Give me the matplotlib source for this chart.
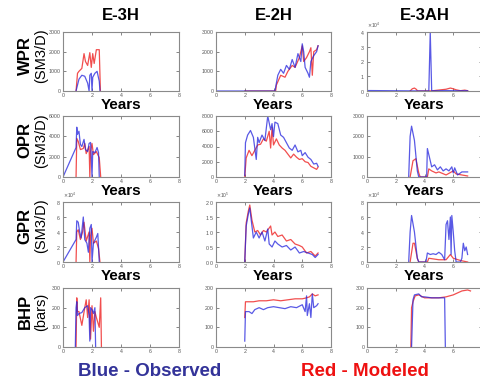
import matplotlib
matplotlib.use("Agg")
import matplotlib.pyplot as plt
import numpy as np

wells = ["E-3H", "E-2H", "E-3AH"]
props = ["WPR", "OPR", "GPR", "BHP"]
units = ["(SM3/D)", "(SM3/D)", "(SM3/D)", "(bars)"]
x_ticks = [0, 2, 4, 6, 8]

# y-axis upper limits per row / column
y_max = [[3000, 3000, 40000],
         [6000, 8000, 3000],
         [80000, 200000, 80000],
         [300, 300, 300]]
y_step = [[1000, 1000, 10000],
          [2000, 2000, 1000],
          [20000, 50000, 20000],
          [100, 100, 100]]

# ---- WPR ----
wpr_e3h_xo = [0.9, 1.1, 1.3, 1.5, 1.7, 1.8, 1.85, 1.95, 2.0, 2.05, 2.2, 2.35, 2.5, 2.55]
wpr_e3h_obs = [0, 600, 800, 750, 400, 0, 800, 900, 0, 700, 900, 1000, 500, 0]
wpr_e3h_xm = [0.9, 1.0, 1.1, 1.3, 1.45, 1.55, 1.7, 1.85, 1.95, 2.05, 2.15, 2.3, 2.5, 2.58]
wpr_e3h_mod = [0, 900, 1000, 1150, 1900, 1500, 1300, 1950, 1200, 1900, 1400, 2100, 2100, 0]

wpr_e2h_xo = [0, 0.35, 4.1, 4.3, 4.5, 4.7, 4.9, 5.1, 5.3, 5.5, 5.7, 5.9, 6.0, 6.1, 6.2, 6.4,
              6.5, 6.6, 6.8, 7.0, 7.1]
wpr_e2h_obs = [0, 0, 0, 800, 1100, 900, 1300, 1100, 1600, 1200, 1900, 1500, 2400, 2000, 1200,
               900, 700, 1500, 1800, 2000, 2300]
wpr_e2h_xm = [2.0, 4.15, 4.2, 4.5, 4.8, 5.0, 5.3, 5.5, 5.8, 6.0, 6.1, 6.3, 6.5, 6.6, 6.7, 6.8,
              7.0, 7.1]
wpr_e2h_mod = [0, 0, 300, 800, 700, 1000, 1300, 1200, 1700, 2300, 1500, 1700, 2000, 2200, 800,
               2000, 2100, 2300]

wpr_e3ah_xo = [0, 0.3, 4.3, 4.35, 4.4, 4.45, 4.5, 5.0, 5.5, 6.0, 6.5, 7.0]
wpr_e3ah_obs = [300, 300, 0, 20000, 40000, 20000, 200, 200, 300, 200, 200, 200]
wpr_e3ah_xm = [3.0, 3.15, 3.3, 3.45, 3.5, 4.5, 5.5, 5.8, 6.0, 6.2, 6.5, 6.8, 7.0]
wpr_e3ah_mod = [0, 1500, 2000, 1000, 0, 100, 1200, 2000, 1500, 800, 200, 600, 200]

# ---- OPR ----
opr_e3h_xo = [0, 0.9, 0.95, 1.0, 1.1, 1.2, 1.3, 1.45, 1.55, 1.7, 1.8, 1.9, 1.95, 2.0, 2.05,
              2.2, 2.35, 2.45, 2.5]
opr_e3h_obs = [0, 2900, 4900, 4200, 4500, 3200, 3000, 3700, 2700, 2500, 3300, 3400, 2000, 0,
               2500, 2400, 2900, 2400, 0]
opr_e3h_xm = [0.9, 0.95, 1.05, 1.2, 1.4, 1.5, 1.6, 1.8, 1.85, 1.9, 2.0, 2.1, 2.3, 2.5, 2.6]
opr_e3h_mod = [0, 3800, 3500, 2700, 2800, 3300, 2300, 3000, 0, 2500, 3300, 2200, 2500, 1900, 0]

opr_e2h_xo = [2.0, 2.05, 2.2, 2.4, 2.6, 2.8, 2.9, 3.0, 3.2, 3.4, 3.6, 3.8, 3.9, 4.0, 4.1, 4.3,
              4.5, 4.7, 4.9, 5.1, 5.3, 5.5, 5.7, 5.9, 6.0, 6.2, 6.4, 6.6, 6.8, 7.0, 7.1]
opr_e2h_obs = [200, 4500, 5500, 6100, 5200, 2300, 5200, 4500, 5500, 4800, 8000, 6200, 7000,
               5300, 7200, 7000, 5500, 5200, 4500, 3800, 3500, 4200, 3300, 3500, 2800, 3200,
               2600, 2300, 1700, 1800, 1400]
opr_e2h_xm = [2.0, 2.1, 2.3, 2.5, 2.7, 2.9, 3.1, 3.3, 3.5, 3.7, 3.8, 3.9, 4.0, 4.2, 4.4, 4.6,
              4.8, 5.0, 5.2, 5.4, 5.6, 5.8, 6.0, 6.2, 6.4, 6.6, 6.8, 7.0, 7.1]
opr_e2h_mod = [0, 2500, 3500, 2800, 3500, 4200, 4300, 5000, 4700, 6000, 3800, 6500, 4200, 5000,
               4200, 3800, 3500, 3000, 2500, 3000, 2600, 2300, 2400, 2000, 1900, 1400, 1200,
               1000, 1300]

opr_e3ah_xo = [2.9, 3.0, 3.1, 3.3, 3.5, 3.6, 4.15, 4.2, 4.3, 4.5, 4.7, 4.9, 5.1, 5.3, 5.5, 5.7,
               5.9, 6.0, 6.1, 6.3, 6.6, 7.0]
opr_e3ah_obs = [0, 2000, 2500, 1800, 300, 0, 0, 1400, 1100, 500, 600, 350, 500, 300, 400, 300,
                500, 200, 450, 100, 250, 250]
opr_e3ah_xm = [3.0, 3.2, 3.4, 3.6, 3.7, 4.2, 4.3, 4.5, 4.8, 5.0, 5.5, 6.0, 6.2, 6.6, 7.0]
opr_e3ah_mod = [0, 800, 900, 200, 0, 0, 400, 300, 200, 250, 100, 300, 150, 100, 50]

# ---- GPR ----
gpr_e3h_xo = [0, 0.9, 0.95, 1.05, 1.15, 1.25, 1.4, 1.5, 1.65, 1.75, 1.85, 1.95, 2.0, 2.1, 2.3,
              2.4, 2.5]
gpr_e3h_obs = [0, 30000, 55000, 53000, 40000, 32000, 60000, 30000, 25000, 13000, 45000, 50000,
               0, 25000, 33000, 38000, 0]
gpr_e3h_xm = [0.9, 0.95, 1.05, 1.2, 1.35, 1.45, 1.6, 1.8, 1.85, 1.9, 2.0, 2.1, 2.3, 2.45, 2.55]
gpr_e3h_mod = [0, 40000, 43000, 30000, 40000, 53000, 28000, 40000, 0, 35000, 45000, 25000,
               28000, 18000, 0]

gpr_e2h_xo = [2.0, 2.1, 2.25, 2.35, 2.5, 2.6, 2.8, 3.0, 3.2, 3.4, 3.6, 3.7, 3.9, 4.1, 4.3, 4.6,
              4.9, 5.2, 5.5, 5.8, 6.1, 6.4, 6.7, 6.9, 7.1]
gpr_e2h_obs = [0, 120000, 160000, 180000, 120000, 80000, 100000, 80000, 100000, 70000, 110000,
               60000, 50000, 70000, 60000, 50000, 55000, 40000, 50000, 30000, 35000, 30000,
               25000, 15000, 25000]
gpr_e2h_xm = [2.0, 2.1, 2.25, 2.35, 2.5, 2.7, 2.9, 3.1, 3.3, 3.5, 3.8, 3.9, 4.1, 4.3, 4.6, 4.9,
              5.2, 5.5, 5.8, 6.0, 6.3, 6.6, 6.9, 7.1]
gpr_e2h_mod = [0, 130000, 170000, 190000, 140000, 100000, 105000, 90000, 105000, 100000, 120000,
               90000, 100000, 85000, 90000, 70000, 75000, 60000, 55000, 50000, 30000, 35000,
               20000, 30000]

gpr_e3ah_xo = [2.9, 3.0, 3.1, 3.3, 3.5, 3.6, 4.1, 4.2, 4.4, 4.6, 4.8, 5.0, 5.2, 5.4, 5.5, 5.6,
               5.7, 5.8, 5.85, 5.9, 6.0, 6.1, 6.2, 6.5, 6.6, 6.7, 6.8, 6.9, 7.0]
gpr_e3ah_obs = [0, 40000, 62000, 40000, 5000, 0, 0, 12000, 10000, 11000, 10000, 13000, 10000,
                3000, 50000, 55000, 30000, 60000, 10000, 62000, 40000, 15000, 0, 0, 5000,
                25000, 15000, 20000, 10000]
gpr_e3ah_xm = [3.0, 3.2, 3.3, 3.5, 3.6, 4.2, 4.3, 5.0, 5.5, 5.8, 6.0, 6.5, 7.0]
gpr_e3ah_mod = [0, 25000, 25000, 5000, 0, 0, 5000, 3000, 3000, 10000, 5000, 2000, 0]

# ---- BHP ----
bhp_e3h_xo = [0.85, 0.9, 0.95, 1.0, 1.1, 1.3, 1.5, 1.7, 1.8, 1.85, 1.9, 2.0, 2.1, 2.2, 2.25]
bhp_e3h_obs = [0, 200, 230, 160, 170, 175, 200, 210, 160, 30, 200, 190, 170, 200, 0]
bhp_e3h_xm = [0.9, 0.95, 1.0, 1.1, 1.3, 1.5, 1.6, 1.7, 1.8, 1.9, 2.0, 2.1, 2.2, 2.3, 2.5, 2.6,
              2.65]
bhp_e3h_mod = [0, 250, 180, 180, 110, 200, 240, 150, 240, 40, 210, 80, 180, 150, 100, 250, 0]

bhp_e2h_xo = [2.0, 2.05, 2.3, 2.5, 2.7, 3.0, 3.3, 3.6, 4.0, 4.4, 4.8, 5.2, 5.6, 6.0, 6.2, 6.3,
              6.35, 6.5, 6.6, 6.7, 6.8, 7.0, 7.1]
bhp_e2h_obs = [30, 180, 180, 170, 190, 200, 190, 200, 205, 200, 195, 205, 200, 215, 180, 260,
               160, 220, 150, 270, 200, 210, 220]
bhp_e2h_xm = [2.0, 2.05, 2.3, 2.6, 3.0, 3.5, 4.0, 4.5, 5.0, 5.5, 6.0, 6.3, 6.5, 6.7, 6.9, 7.1]
bhp_e2h_mod = [150, 230, 230, 230, 235, 235, 240, 235, 240, 245, 245, 250, 255, 270, 260, 265]

bhp_e3ah_xo = [3.1, 3.2, 3.3, 3.6, 3.8, 4.0, 4.5, 5.0, 5.4, 5.45]
bhp_e3ah_obs = [0, 240, 265, 270, 255, 255, 250, 250, 250, 0]
bhp_e3ah_xm = [3.05, 3.1, 3.2, 3.35, 3.6, 4.0, 4.5, 5.0, 5.5, 6.0, 6.3, 6.6, 7.0, 7.2]
bhp_e3ah_mod = [0, 200, 230, 260, 265, 250, 250, 250, 255, 265, 275, 285, 290, 285]

panels = [
    [(wpr_e3h_xo, wpr_e3h_obs, wpr_e3h_xm, wpr_e3h_mod),
     (wpr_e2h_xo, wpr_e2h_obs, wpr_e2h_xm, wpr_e2h_mod),
     (wpr_e3ah_xo, wpr_e3ah_obs, wpr_e3ah_xm, wpr_e3ah_mod)],
    [(opr_e3h_xo, opr_e3h_obs, opr_e3h_xm, opr_e3h_mod),
     (opr_e2h_xo, opr_e2h_obs, opr_e2h_xm, opr_e2h_mod),
     (opr_e3ah_xo, opr_e3ah_obs, opr_e3ah_xm, opr_e3ah_mod)],
    [(gpr_e3h_xo, gpr_e3h_obs, gpr_e3h_xm, gpr_e3h_mod),
     (gpr_e2h_xo, gpr_e2h_obs, gpr_e2h_xm, gpr_e2h_mod),
     (gpr_e3ah_xo, gpr_e3ah_obs, gpr_e3ah_xm, gpr_e3ah_mod)],
    [(bhp_e3h_xo, bhp_e3h_obs, bhp_e3h_xm, bhp_e3h_mod),
     (bhp_e2h_xo, bhp_e2h_obs, bhp_e2h_xm, bhp_e2h_mod),
     (bhp_e3ah_xo, bhp_e3ah_obs, bhp_e3ah_xm, bhp_e3ah_mod)],
]

W, H = 480, 383
plt.rcParams['font.family'] = ['Liberation Sans', 'DejaVu Sans']
fig = plt.figure(figsize=(W / 100, H / 100), dpi=100)

col_px = [(63, 179), (216, 331), (367, 482)]
row_px = [(32, 91), (116, 177), (202, 262), (288, 347)]
grey = '#8a8a8a'

for r in range(4):
    for c in range(3):
        x0, x1 = col_px[c]
        y0, y1 = row_px[r]
        ax = fig.add_axes([x0 / W, 1 - y1 / H, (x1 - x0) / W, (y1 - y0) / H])
        xo, yo, xm, ym = panels[r][c]
        ax.plot(xm, ym, color='#ee2222', lw=0.9, alpha=0.8)
        ax.plot(xo, yo, color='#2222dd', lw=0.9, alpha=0.75)
        ax.set_xlim(0, 8)
        ax.set_ylim(0, y_max[r][c])
        ax.set_xticks(x_ticks)
        if c == 2:
            # last column runs off the picture's right edge, so "8" is not shown
            ax.set_xticklabels([str(t) for t in x_ticks[:-1]] + [""])
        ax.set_yticks(np.arange(0, y_max[r][c] + 1, y_step[r][c]))
        if y_max[r][c] >= 10000:
            ax.ticklabel_format(style='sci', axis='y', scilimits=(0, 0), useMathText=True)
            ax.yaxis.get_offset_text().set_fontsize(3.5)
            ax.yaxis.get_offset_text().set_color('#555555')
        ax.tick_params(direction='in', length=2, width=0.5, labelsize=3.8,
                       colors='#555555', top=True, right=True, pad=1.5)
        for s in ax.spines.values():
            s.set_color(grey)
            s.set_linewidth(0.8)
        if r < 3:
            fig.text((x0 + x1) / 2 / W, 1 - (y1 + 14) / H, "Years", ha='center',
                     va='center', fontsize=11, fontweight='bold')
    yc = 1 - ((row_px[r][0] + row_px[r][1]) / 2 - 6) / H
    fig.text(25 / W, yc, props[r], rotation=90, ha='center', va='center',
             fontsize=12, fontweight='bold')
    fig.text(41 / W, yc, units[r], rotation=90, ha='center', va='center',
             fontsize=10.5)

for c in range(3):
    x0, x1 = col_px[c]
    fig.text((x0 + x1) / 2 / W, 1 - 16 / H, wells[c], ha='center', va='center',
             fontsize=12, fontweight='bold')

fig.text(150 / W, 1 - 371 / H, "Blue - Observed", ha='center', va='center',
         fontsize=13.5, fontweight='bold', color='#333399')
fig.text(365 / W, 1 - 371 / H, "Red - Modeled", ha='center', va='center',
         fontsize=13.5, fontweight='bold', color='#ee1111')

fig.savefig("out.png", dpi=100)
